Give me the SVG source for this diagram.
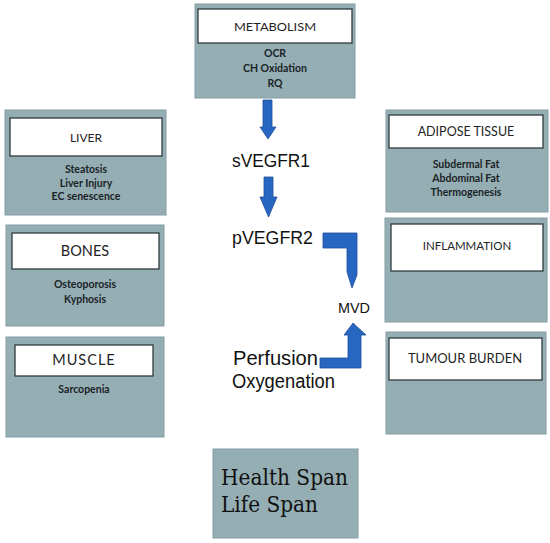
<svg xmlns="http://www.w3.org/2000/svg" width="550" height="543" viewBox="0 0 550 543">
<style>
.outer{fill:#95aeb4;stroke:#849da3;stroke-width:1}
.inner{fill:#ffffff;stroke:#2e3b3e;stroke-width:1.3}
.title{font-family:"Lato","Open Sans","Liberation Sans",sans-serif;fill:#1f2426;text-anchor:middle}
.sub{font-family:"Lato","Open Sans","Liberation Sans",sans-serif;font-weight:bold;fill:#1a2326;text-anchor:middle;font-size:10.5px}
.mid{font-family:"Liberation Sans","Arial",sans-serif;fill:#111;}
.arrow{fill:#2767c2;stroke:#1c4f98;stroke-width:0.8}
.hs{font-family:"DejaVu Serif","Liberation Serif",serif;fill:#111;font-size:23px}
</style>
<rect width="550" height="543" fill="#ffffff"/>

<g id="metabolism">
<rect class="outer" x="195" y="4" width="160" height="94"/>
<rect class="inner" x="198" y="9" width="154" height="34"/>
<text class="title" x="275" y="31" font-size="12" textLength="82" lengthAdjust="spacingAndGlyphs">METABOLISM</text>
<text class="sub" x="275" y="57">OCR</text>
<text class="sub" x="275" y="72">CH Oxidation</text>
<text class="sub" x="275" y="87">RQ</text>
</g>

<g id="liver">
<rect class="outer" x="5" y="110" width="161" height="105"/>
<rect class="inner" x="10" y="118" width="152" height="38"/>
<text class="title" x="86" y="142" font-size="12">LIVER</text>
<text class="sub" x="86" y="173" font-size="9.5">Steatosis</text>
<text class="sub" x="86" y="187" font-size="9.5">Liver Injury</text>
<text class="sub" x="86" y="200" font-size="9.5">EC senescence</text>
</g>

<g id="bones">
<rect class="outer" x="6" y="225" width="158" height="101"/>
<rect class="inner" x="12" y="233" width="147" height="36"/>
<text class="title" x="85" y="256" font-size="14.5">BONES</text>
<text class="sub" x="85" y="288">Osteoporosis</text>
<text class="sub" x="85" y="303">Kyphosis</text>
</g>

<g id="muscle">
<rect class="outer" x="6" y="337" width="158" height="100"/>
<rect class="inner" x="15" y="345" width="138" height="31"/>
<text class="title" x="84" y="365" font-size="14.5" letter-spacing="1">MUSCLE</text>
<text class="sub" x="84" y="393">Sarcopenia</text>
</g>

<g id="adipose">
<rect class="outer" x="386" y="110" width="162" height="102"/>
<rect class="inner" x="389" y="115" width="154" height="33"/>
<text class="title" x="466" y="136" font-size="12.5">ADIPOSE TISSUE</text>
<text class="sub" x="466" y="168">Subdermal Fat</text>
<text class="sub" x="466" y="182">Abdominal Fat</text>
<text class="sub" x="466" y="196">Thermogenesis</text>
</g>

<g id="inflammation">
<rect class="outer" x="385" y="218" width="162" height="104"/>
<rect class="inner" x="391" y="224" width="152" height="47"/>
<text class="title" x="467" y="250" font-size="11.5">INFLAMMATION</text>
</g>

<g id="tumour">
<rect class="outer" x="386" y="332" width="160" height="102"/>
<rect class="inner" x="389" y="338" width="153" height="42"/>
<text class="title" x="465" y="363" font-size="13">TUMOUR BURDEN</text>
</g>

<g id="svegfr1"><text class="mid" x="232" y="167" font-size="19" textLength="78" lengthAdjust="spacingAndGlyphs">sVEGFR1</text></g>
<g id="pvegfr2"><text class="mid" x="232" y="244" font-size="19" textLength="81" lengthAdjust="spacingAndGlyphs">pVEGFR2</text></g>
<g id="mvd"><text class="mid" x="338" y="313" font-size="14" textLength="32" lengthAdjust="spacingAndGlyphs">MVD</text></g>
<g id="perfusion">
<text class="mid" x="233" y="365" font-size="20" textLength="85" lengthAdjust="spacingAndGlyphs">Perfusion</text>
<text class="mid" x="232" y="388" font-size="20" textLength="103" lengthAdjust="spacingAndGlyphs">Oxygenation</text>
</g>

<g id="healthspan">
<rect class="outer" x="213" y="449" width="145" height="89"/>
<text class="hs" x="221" y="485" textLength="127" lengthAdjust="spacingAndGlyphs">Health Span</text>
<text class="hs" x="221" y="512" textLength="97" lengthAdjust="spacingAndGlyphs">Life Span</text>
</g>

<g id="connectors">
<polygon class="arrow" points="263,100 272,100 272,127 276,127 268,139 260,127 263,127"/>
<polygon class="arrow" points="264,177 273,177 273,197 277,197 268.5,217 260,197 264,197"/>
<polygon class="arrow" points="323,233 357,233 357,275 352,288 347,272 347,248 323,248"/>
<polygon class="arrow" points="320,358 348,358 348,335 344,335 353,323 366,335 361,335 361,368 320,368"/>
</g>
</svg>
